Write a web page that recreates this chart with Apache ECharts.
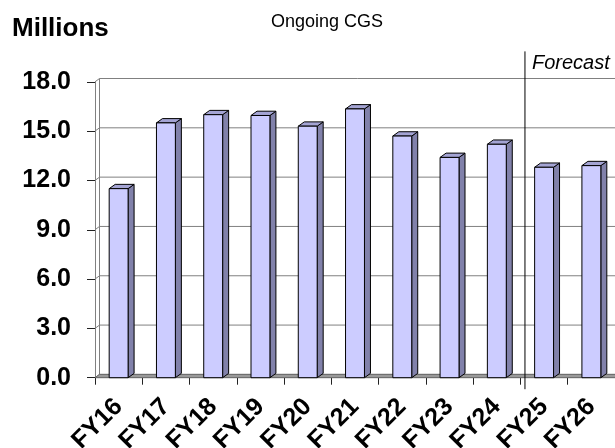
<!DOCTYPE html>
<html>
<head>
<meta charset="utf-8">
<script src="https://cdn.jsdelivr.net/npm/echarts@6/dist/echarts.min.js"></script>
<style>
  html, body { margin: 0; padding: 0; background: #fff; }
  #chart { width: 615px; height: 448px; }
</style>
</head>
<body>
<div id="chart"></div>
<script>
// ---- data ----
const categories = ['FY16', 'FY17', 'FY18', 'FY19', 'FY20', 'FY21', 'FY22', 'FY23', 'FY24', 'FY25', 'FY26'];
const values = [11.5, 15.5, 16.0, 15.95, 15.3, 16.35, 14.7, 13.4, 14.2, 12.8, 12.9];
const yTickValues = [0, 3, 6, 9, 12, 15, 18];
const forecastStartIndex = 9;          // first forecast category (FY25)
const forecastLabel = 'Forecast';
const titleText = 'Ongoing CGS';
const unitText = 'Millions';

// ---- style constants ----
const FONT = '"Liberation Sans", Arial, sans-serif';
const WALL_DX = 4.5, WALL_DY = -3.3;   // depth of back wall / floor
const BAR_DX = 6, BAR_DY = -4.3;       // depth of bars
const GRID_COLOR = '#808080';
const BAR_FRONT = '#CCCCFF', BAR_SIDE = '#8181AA', BAR_TOP = '#A4A4D4';

const chart = echarts.init(document.getElementById('chart'), null, { renderer: 'canvas' });

const yMin = yTickValues[0], yMax = yTickValues[yTickValues.length - 1];

const option = {
  backgroundColor: '#ffffff',
  animation: false,
  graphic: [
    { type: 'text', left: 12, top: 16,
      style: { text: unitText, font: 'bold 26px ' + FONT, fill: '#000' } },
    { type: 'text', left: 271, top: 13,
      style: { text: titleText, font: '18px ' + FONT, fill: '#000' } }
  ],
  grid: { left: 95, right: 0, top: 81.8, bottom: 70.3, containLabel: false, outerBoundsMode: 'none' },
  xAxis: {
    type: 'category',
    data: categories,
    boundaryGap: true,
    axisLine: { show: true, lineStyle: { color: '#404040', width: 1 } },
    axisTick: { show: true, interval: 0, length: 7, lineStyle: { color: '#222' } },
    axisLabel: {
      interval: 0, rotate: 45, margin: 25,
      fontFamily: FONT, fontWeight: 'bold', fontSize: 25, color: '#000'
    },
    splitLine: { show: false }
  },
  yAxis: {
    type: 'value',
    min: yMin, max: yMax, interval: 3,
    axisLine: { show: true, lineStyle: { color: GRID_COLOR } },
    axisTick: { show: true, length: 8, lineStyle: { color: '#222' } },
    axisLabel: {
      margin: 24, formatter: v => v.toFixed(1),
      fontFamily: FONT, fontWeight: 'bold', fontSize: 25, color: '#000'
    },
    splitLine: { show: false }
  },
  series: [
    // back-wall gridlines (with diagonal across the left wall)
    {
      type: 'custom', z: 1, clip: false, silent: true,
      data: yTickValues.map(v => [0, v]),
      encode: { x: 0, y: 1 },
      renderItem: function (params, api) {
        const cs = params.coordSys;
        const y = api.coord([0, api.value(1)])[1];
        const x0 = cs.x, x1 = cs.x + cs.width;
        return {
          type: 'polyline',
          shape: { points: [[x0, y], [x0 + WALL_DX, y + WALL_DY], [x1 + WALL_DX, y + WALL_DY]] },
          style: { stroke: GRID_COLOR, lineWidth: 1, fill: null }
        };
      }
    },
    // left wall back edge + floor
    {
      type: 'custom', z: 2, clip: false, silent: true,
      data: [[0, yMin]],
      encode: { x: 0, y: 1 },
      renderItem: function (params, api) {
        const cs = params.coordSys;
        const y0 = api.coord([0, yMin])[1];
        const yT = api.coord([0, yMax])[1];
        const x0 = cs.x, x1 = cs.x + cs.width;
        return {
          type: 'group',
          children: [
            { type: 'line',
              shape: { x1: x0 + WALL_DX, y1: y0 + WALL_DY, x2: x0 + WALL_DX, y2: yT + WALL_DY },
              style: { stroke: GRID_COLOR, lineWidth: 1 } },
            { type: 'polygon',
              shape: { points: [[x0, y0], [x1, y0], [x1 + WALL_DX, y0 + WALL_DY], [x0 + WALL_DX, y0 + WALL_DY]] },
              style: { fill: '#9A9A9A', stroke: '#6A6A6A', lineWidth: 1 } }
          ]
        };
      }
    },
    // forecast divider
    {
      type: 'custom', z: 2, clip: false, silent: true,
      data: [[forecastStartIndex, yMin]],
      encode: { x: 0, y: 1 },
      renderItem: function (params, api) {
        const c = api.coord([api.value(0), yMin]);
        const bw = api.size([1, 0])[0];
        const x = c[0] - bw / 2 + WALL_DX;
        const yTop = api.coord([0, 19.85])[1];
        const yBot = api.coord([0, -0.7])[1];
        const yTxt = api.coord([0, 19.14])[1];
        return {
          type: 'group',
          children: [
            { type: 'line', shape: { x1: x, y1: yTop, x2: x, y2: yBot },
              style: { stroke: '#000', lineWidth: 1 } },
            { type: 'text',
              style: { text: forecastLabel, x: x + 7, y: yTxt,
                       font: 'italic 20px ' + FONT, fill: '#000',
                       textAlign: 'left', align: 'left',
                       textVerticalAlign: 'middle', verticalAlign: 'middle' } }
          ]
        };
      }
    },
    // 3D bars
    {
      type: 'custom', z: 3, clip: false,
      data: values.map((v, i) => [i, v]),
      encode: { x: 0, y: 1 },
      renderItem: function (params, api) {
        const top = api.coord([api.value(0), api.value(1)]);
        const base = api.coord([api.value(0), yMin]);
        const w = api.size([1, 0])[0] * 0.40;
        const xl = top[0] - w / 2, xr = top[0] + w / 2;
        const yt = top[1], yb = base[1];
        const edge = { stroke: '#000', lineWidth: 1 };
        return {
          type: 'group',
          children: [
            { type: 'polygon',
              shape: { points: [[xr, yt], [xr + BAR_DX, yt + BAR_DY], [xr + BAR_DX, yb + BAR_DY], [xr, yb]] },
              style: Object.assign({ fill: BAR_SIDE }, edge) },
            { type: 'polygon',
              shape: { points: [[xl, yt], [xl + BAR_DX, yt + BAR_DY], [xr + BAR_DX, yt + BAR_DY], [xr, yt]] },
              style: Object.assign({ fill: BAR_TOP }, edge) },
            { type: 'rect',
              shape: { x: xl, y: yt, width: w, height: yb - yt },
              style: Object.assign({ fill: BAR_FRONT }, edge) }
          ]
        };
      }
    }
  ]
};

chart.setOption(option);
</script>
</body>
</html>
